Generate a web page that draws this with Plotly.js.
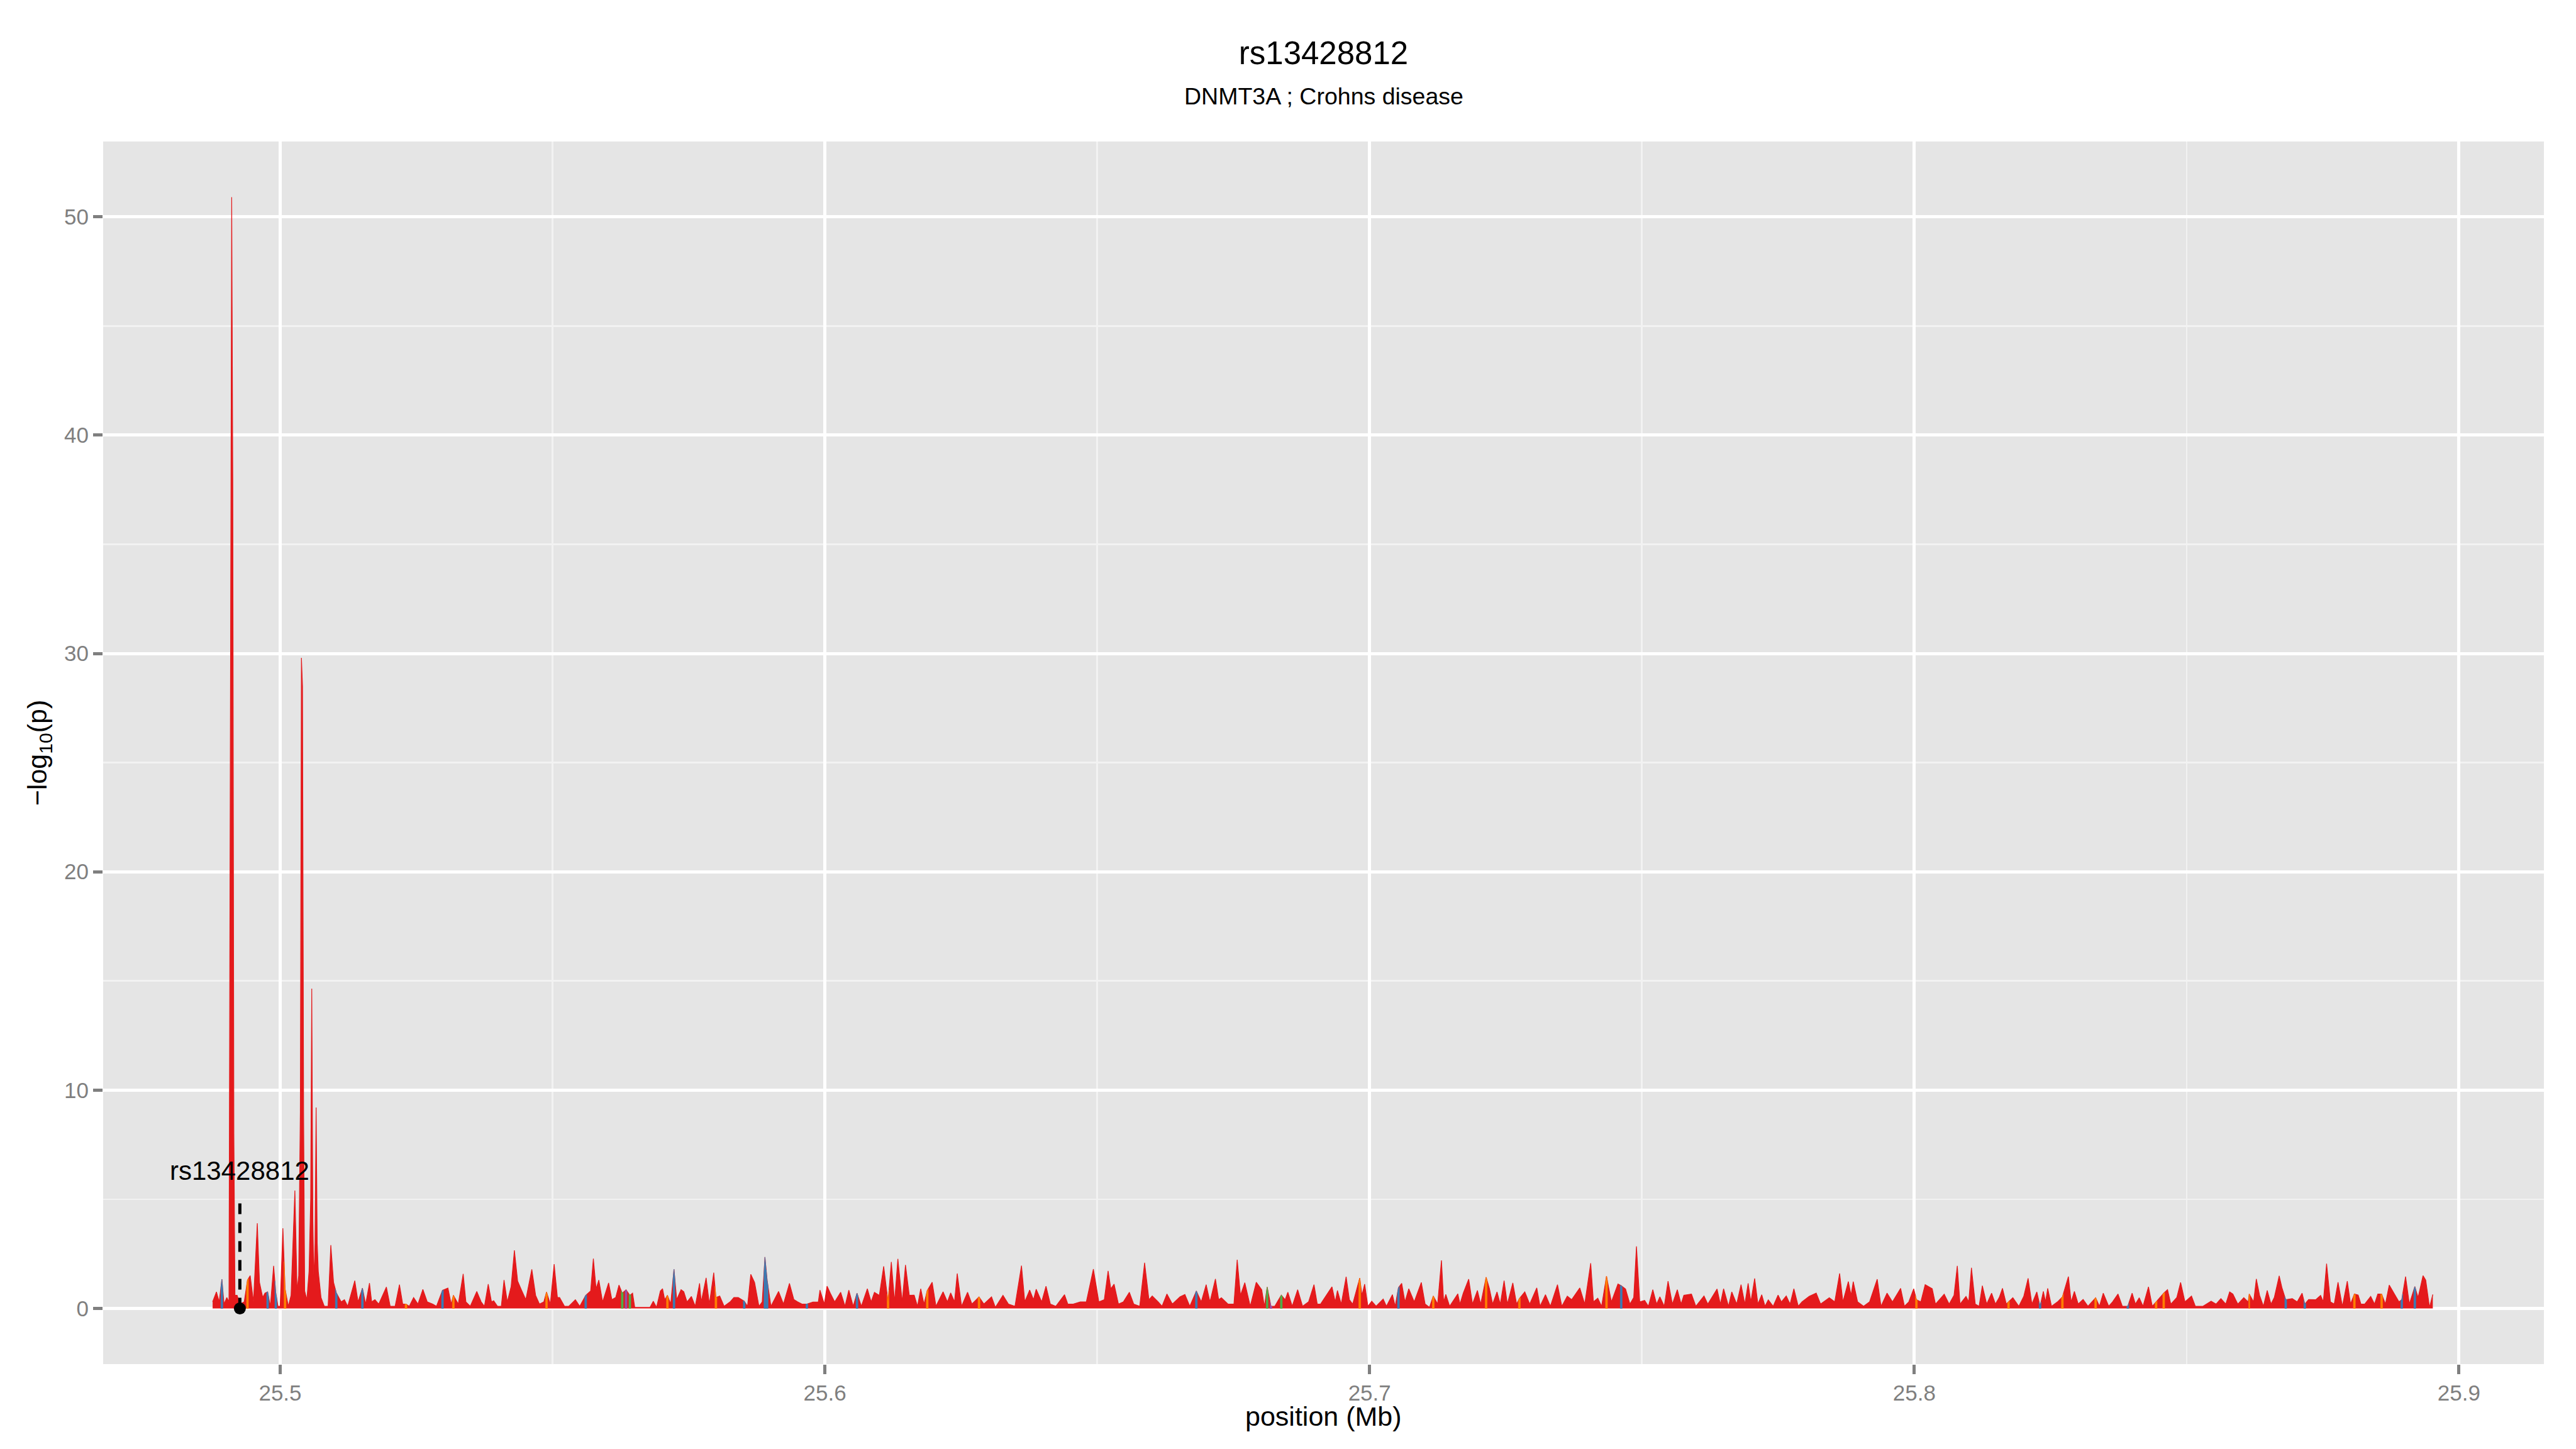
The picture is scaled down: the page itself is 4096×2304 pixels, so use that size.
<!DOCTYPE html>
<html>
<head>
<meta charset="utf-8">
<script src="https://cdn.plot.ly/plotly-3.0.1.min.js"></script>
<style>
html,body{margin:0;padding:0;background:#ffffff;}
#chart{width:4096px;height:2304px;}
</style>
</head>
<body>
<div id="chart"></div>
<script>
// ---------------- data ----------------
const chart_title = "rs13428812";
const chart_subtitle = "DNMT3A ; Crohns disease";
const x_axis_title = "position (Mb)";
const y_axis_title = "\u2212log<sub>10</sub>(p)";
const x_tick_values = [25.5, 25.6, 25.7, 25.8, 25.9];
const x_tick_labels = ["25.5", "25.6", "25.7", "25.8", "25.9"];
const y_tick_values = [0, 10, 20, 30, 40, 50];
const y_tick_labels = ["0", "10", "20", "30", "40", "50"];

const lead_snp_id = "rs13428812";
const lead_snp_pos = 25.4926;
const lead_snp_value = 0;
const lead_line_top = 5.05;
const lead_label_y = 6.3;

const pos_mb = [
25.4876,25.4883,25.4888,25.4893,25.4897,25.4902,25.4906,25.4909,25.4911,25.4913,
25.4915,25.4917,25.4921,25.4926,25.4934,25.4940,25.4945,25.4951,25.4958,25.4962,
25.4968,25.4972,25.4977,25.4982,25.4988,25.4992,25.4996,25.5000,25.5005,25.5009,
25.5015,25.5020,25.5027,25.5031,25.5034,25.5037,25.5039,25.5041,25.5043,25.5045,
25.5049,25.5053,25.5056,25.5058,25.5060,25.5062,25.5064,25.5066,25.5068,25.5070,
25.5075,25.5081,25.5088,25.5093,25.5098,25.5103,25.5112,25.5118,25.5124,25.5137,
25.5143,25.5151,25.5157,25.5164,25.5168,25.5174,25.5181,25.5195,25.5202,25.5211,
25.5219,25.5225,25.5231,25.5237,25.5245,25.5253,25.5262,25.5270,25.5280,25.5287,
25.5298,25.5308,25.5314,25.5318,25.5327,25.5336,25.5341,25.5349,25.5361,25.5369,
25.5375,25.5382,25.5388,25.5392,25.5399,25.5406,25.5411,25.5417,25.5424,25.5430,
25.5436,25.5442,25.5451,25.5462,25.5469,25.5476,25.5484,25.5489,25.5496,25.5503,
25.5509,25.5513,25.5522,25.5530,25.5542,25.5550,25.5561,25.5570,25.5575,25.5580,
25.5585,25.5592,25.5603,25.5609,25.5616,25.5622,25.5628,25.5635,25.5642,25.5647,
25.5651,25.5668,25.5679,25.5685,25.5691,25.5698,25.5702,25.5706,25.5711,25.5717,
25.5723,25.5728,25.5736,25.5741,25.5747,25.5755,25.5762,25.5770,25.5773,25.5782,
25.5788,25.5796,25.5800,25.5807,25.5815,25.5826,25.5833,25.5841,25.5852,25.5858,
25.5864,25.5871,25.5879,25.5885,25.5890,25.5894,25.5901,25.5915,25.5924,25.5935,
25.5943,25.5950,25.5958,25.5967,25.5978,25.5988,25.5991,25.5999,25.6004,25.6010,
25.6018,25.6029,25.6037,25.6044,25.6052,25.6059,25.6067,25.6078,25.6085,25.6091,
25.6100,25.6108,25.6116,25.6122,25.6128,25.6134,25.6142,25.6148,25.6155,25.6164,
25.6170,25.6176,25.6182,25.6188,25.6197,25.6204,25.6217,25.6225,25.6231,25.6238,
25.6243,25.6251,25.6262,25.6270,25.6283,25.6292,25.6306,25.6313,25.6327,25.6337,
25.6349,25.6361,25.6367,25.6376,25.6383,25.6388,25.6398,25.6406,25.6414,25.6424,
25.6440,25.6446,25.6456,25.6469,25.6480,25.6493,25.6503,25.6513,25.6520,25.6525,
25.6531,25.6539,25.6548,25.6559,25.6567,25.6578,25.6587,25.6595,25.6601,25.6612,
25.6619,25.6628,25.6638,25.6652,25.6661,25.6670,25.6682,25.6691,25.6700,25.6707,
25.6717,25.6723,25.6728,25.6740,25.6751,25.6757,25.6763,25.6771,25.6781,25.6792,
25.6802,25.6807,25.6812,25.6819,25.6826,25.6838,25.6845,25.6850,25.6858,25.6868,
25.6877,25.6888,25.6898,25.6904,25.6910,25.6918,25.6931,25.6937,25.6941,25.6948,
25.6957,25.6963,25.6969,25.6982,25.6986,25.6991,25.6997,25.7004,25.7012,25.7025,
25.7031,25.7042,25.7047,25.7053,25.7059,25.7065,25.7072,25.7082,25.7095,25.7102,
25.7110,25.7117,25.7125,25.7132,25.7136,25.7140,25.7147,25.7162,25.7166,25.7172,
25.7182,25.7189,25.7198,25.7204,25.7214,25.7220,25.7226,25.7234,25.7240,25.7247,
25.7253,25.7263,25.7270,25.7275,25.7285,25.7294,25.7307,25.7313,25.7323,25.7332,
25.7345,25.7353,25.7363,25.7371,25.7386,25.7395,25.7406,25.7411,25.7419,25.7426,
25.7435,25.7444,25.7456,25.7462,25.7470,25.7478,25.7485,25.7490,25.7496,25.7505,
25.7512,25.7520,25.7527,25.7533,25.7541,25.7548,25.7556,25.7565,25.7572,25.7577,
25.7591,25.7599,25.7614,25.7621,25.7638,25.7644,25.7650,25.7659,25.7665,25.7674,
25.7682,25.7689,25.7695,25.7700,25.7707,25.7713,25.7720,25.7726,25.7732,25.7741,
25.7750,25.7756,25.7765,25.7772,25.7779,25.7787,25.7794,25.7807,25.7820,25.7828,
25.7844,25.7854,25.7863,25.7869,25.7879,25.7884,25.7888,25.7896,25.7907,25.7918,
25.7932,25.7939,25.7950,25.7960,25.7975,25.7982,25.7990,25.7999,25.8004,25.8012,
25.8020,25.8033,25.8039,25.8055,25.8064,25.8073,25.8079,25.8084,25.8095,25.8100,
25.8105,25.8112,25.8119,25.8125,25.8133,25.8142,25.8149,25.8156,25.8162,25.8169,
25.8173,25.8181,25.8192,25.8201,25.8209,25.8216,25.8225,25.8231,25.8237,25.8241,
25.8245,25.8252,25.8263,25.8272,25.8283,25.8288,25.8294,25.8301,25.8310,25.8319,
25.8333,25.8340,25.8347,25.8357,25.8364,25.8374,25.8382,25.8392,25.8400,25.8406,
25.8413,25.8420,25.8430,25.8437,25.8444,25.8458,25.8465,25.8471,25.8482,25.8489,
25.8497,25.8509,25.8516,25.8530,25.8545,25.8554,25.8563,25.8572,25.8579,25.8585,
25.8594,25.8605,25.8613,25.8615,25.8623,25.8628,25.8634,25.8641,25.8648,25.8655,
25.8661,25.8670,25.8675,25.8682,25.8694,25.8703,25.8712,25.8717,25.8724,25.8737,
25.8746,25.8751,25.8757,25.8764,25.8771,25.8778,25.8786,25.8795,25.8801,25.8808,
25.8815,25.8820,25.8827,25.8838,25.8845,25.8851,25.8858,25.8865,25.8872,25.8879,
25.8890,25.8895,25.8902,25.8909,25.8919,25.8925,25.8934,25.8939,25.8946,25.8952
];

const neglog10p = [
0.30,0.76,0.30,1.34,0.20,0.50,0.30,34.0,50.9,38.0,
8.00,0.60,0.60,0.20,0.30,1.30,1.50,0.30,3.90,1.20,
0.50,0.70,0.76,0.10,1.95,0.70,0.10,0.10,3.67,0.90,
0.10,0.60,5.40,0.80,1.50,9.00,29.8,28.5,9.00,0.80,
0.40,1.70,5.00,14.65,4.00,1.20,3.00,9.20,3.00,1.70,
0.50,0.10,0.10,2.90,1.20,0.72,0.30,0.40,0.10,1.27,
0.30,0.93,0.20,1.16,0.30,0.40,0.20,0.98,0.10,0.10,
1.09,0.20,0.20,0.10,0.50,0.20,0.87,0.30,0.20,0.10,
0.83,0.93,0.20,0.60,0.20,1.58,0.30,0.10,0.78,0.30,
0.10,1.11,0.30,0.35,0.10,0.10,1.30,0.30,1.00,2.66,
1.25,0.90,0.40,1.79,0.60,0.20,0.30,0.75,0.20,2.03,
0.50,0.50,0.10,0.10,0.40,0.10,0.60,0.80,2.28,0.90,
1.30,0.30,1.17,0.40,0.50,1.07,0.70,0.85,0.60,0.70,
0.05,0.05,0.05,0.33,0.05,0.80,0.90,0.40,0.60,0.20,
1.80,0.40,0.86,0.77,0.30,0.55,0.10,1.15,0.30,1.40,
0.20,1.64,0.50,0.57,0.10,0.30,0.50,0.50,0.33,0.10,
1.56,1.19,0.10,0.30,2.35,1.30,0.10,0.78,0.20,1.15,
0.41,0.30,0.20,0.20,0.29,0.30,0.84,0.20,1.02,0.70,
0.30,0.74,0.10,0.84,0.10,0.70,0.10,0.90,0.30,0.74,
0.60,1.93,0.30,2.13,0.30,2.27,0.30,1.99,0.60,0.61,
0.10,0.90,0.20,0.82,1.20,0.10,0.76,0.30,0.71,0.30,
1.60,0.10,0.74,0.20,0.53,0.20,0.53,0.05,0.60,0.20,
0.10,1.96,0.30,0.84,0.40,0.88,0.30,1.02,0.20,0.10,
0.63,0.20,0.20,0.30,0.30,1.80,0.30,0.40,1.72,0.90,
1.11,0.20,0.30,0.74,0.20,0.10,2.09,0.40,0.57,0.30,
0.10,0.66,0.20,0.53,0.64,0.10,0.80,0.30,1.09,0.30,
1.35,0.40,0.49,0.20,0.20,2.23,0.60,1.18,0.10,1.20,
0.86,0.10,0.98,0.10,0.10,0.61,0.40,0.74,0.10,0.86,
0.10,0.30,1.09,0.20,0.20,0.50,0.99,0.30,0.82,0.20,
1.45,0.40,0.20,1.39,0.60,1.11,0.10,0.33,0.10,0.43,
0.10,0.63,0.10,0.95,1.15,0.30,0.90,0.30,1.19,0.20,
0.05,0.57,0.20,2.20,0.30,0.64,0.10,0.67,0.20,0.70,
1.34,0.20,0.82,0.20,1.43,0.92,0.20,0.76,0.20,1.27,
0.20,1.17,0.20,0.45,0.76,0.20,0.94,0.10,0.63,0.10,
1.09,0.10,0.56,0.40,0.94,0.20,2.07,0.30,0.47,0.10,
1.48,0.30,1.12,1.04,0.89,0.20,0.50,2.84,0.30,0.37,
0.10,0.86,0.20,0.53,0.10,1.25,0.20,0.86,0.20,0.60,
0.66,0.10,0.57,0.20,0.89,0.20,0.90,0.10,0.76,0.20,
1.09,0.20,1.15,0.30,1.37,0.20,0.63,0.10,0.39,0.10,
0.61,0.30,0.57,0.20,0.90,0.10,0.30,0.55,0.70,0.20,
0.49,0.30,1.60,0.30,1.23,0.60,1.23,0.30,0.10,0.30,
1.34,0.10,0.70,0.30,0.92,0.10,0.30,0.90,0.40,0.30,
1.09,0.90,0.20,0.65,0.20,0.60,1.95,0.20,0.55,0.30,
1.86,0.20,0.10,1.04,0.20,0.70,0.20,0.50,0.92,0.20,
0.30,0.49,0.10,0.55,1.38,0.20,0.76,0.10,0.78,0.30,
0.92,0.10,0.30,0.53,1.46,0.30,0.78,0.20,0.41,0.10,
0.49,0.10,0.70,0.10,0.30,0.66,0.10,0.10,0.70,0.20,
0.49,0.10,0.99,0.10,0.30,0.70,0.86,0.20,0.50,1.19,
0.30,0.57,0.10,0.10,0.33,0.20,0.45,0.20,0.76,0.66,
0.20,0.49,0.30,0.66,0.30,1.35,0.60,0.10,0.82,0.20,
0.50,1.49,0.95,0.40,0.45,0.30,0.70,0.20,0.41,0.40,
0.60,0.30,2.05,0.30,0.20,1.20,0.10,1.25,0.20,0.66,
0.61,0.20,0.20,0.55,0.20,0.66,0.66,0.20,1.07,0.78,
0.30,0.40,1.46,0.20,1.00,0.50,1.50,1.30,0.05,0.64
];

// LD group of each SNP (r = red, b = blue, o = orange, g = green, p = purple), 10 per string
const ld_group = [
"rrrbrrrrrr","rrrrrorrrr","rrbrrbrrro","rrrrrrrrrr","rrrrrrrrrr",
"rrrrrbrrrr","rbrrrrrrrr","rrorrrrrrr","brrorrrrrr","rrrrrrrrrr",
"rrrrrrrorr","rrrrrrbrrr","rrrrrrgpgr","rrrrrrrror","brrrrrrrrr",
"rrorrrrrbr","rrrrbbrrrr","rrrbrrrrrr","rrrrrbrrrr","rrorrrrrrr",
"rrrorrrrrr","rrrrorrrrr","rrrrrrrrrr","rrrrrrrrrr","rrrrrrrrrr",
"rrrrrrbrrr","rrrrrrrrrr","rrgprgrrrr","rrrrrrrrrr","rrrorrrrrr",
"rrrbrrrrrr","rorrrrrrrr","rrrrorrrrr","rrrorrrrrr","rrrrrrrrrr",
"orrbrrrrrr","rrrrrrrrrr","rrrrrrrrrr","rrrrrrrrrr","rrrrrrrrrr",
"rrrrrrrrrr","rrrrrrrror","rrrrrrrrrr","rrrrrrrrrr","orrrrrrbrr",
"rrrorrrrrr","orrrrrrbrr","rrrroorrrr","rrrrrrrrrr","rrrorrrrrr",
"rrrbrrrbrr","rrrrrrrrro","rrrrrrorrr","rbrrbrrrrr"
].join("").split("");

const group_colors = {r: "#E41A1C", b: "#377EB8", o: "#FF7F00", g: "#4DAF4A", p: "#984EA3"};

// ---------------- drawing ----------------
const FONT = "Liberation Sans, Arial, Helvetica, sans-serif";
const sliver_half_width = 0.00018;

function lerpY(i0, i1, xq) {
  const x0 = pos_mb[i0], x1 = pos_mb[i1];
  if (x1 === x0) return neglog10p[i0];
  const t = (xq - x0) / (x1 - x0);
  return neglog10p[i0] + t * (neglog10p[i1] - neglog10p[i0]);
}

const traces = [];
traces.push({
  type: "scatter", mode: "lines",
  x: pos_mb, y: neglog10p,
  fill: "tozeroy", fillcolor: group_colors.r,
  line: {color: group_colors.r, width: 1.2},
  hoverinfo: "x+y", showlegend: false
});

["b", "o", "g", "p"].forEach(function (g) {
  const xs = [], ys = [];
  const n = pos_mb.length;
  ld_group.forEach(function (c, i) {
    if (c !== g) return;
    let w = sliver_half_width;
    if (i > 0) w = Math.min(w, 0.45 * (pos_mb[i] - pos_mb[i - 1]));
    if (i < n - 1) w = Math.min(w, 0.45 * (pos_mb[i + 1] - pos_mb[i]));
    const xa = pos_mb[i] - w, xb = pos_mb[i] + w;
    const ya = i > 0 ? lerpY(i - 1, i, xa) : neglog10p[i];
    const yb = i < n - 1 ? lerpY(i, i + 1, xb) : neglog10p[i];
    xs.push(xa, xa, pos_mb[i], xb, xb, xa, null);
    ys.push(0, ya, neglog10p[i], yb, 0, 0, null);
  });
  if (xs.length) {
    traces.push({
      type: "scatter", mode: "lines", x: xs, y: ys,
      fill: "toself", fillcolor: group_colors[g],
      line: {color: group_colors[g], width: 0.6},
      hoverinfo: "skip", showlegend: false
    });
  }
});

// lead SNP marker, dashed stem and label
traces.push({
  type: "scatter", mode: "lines",
  x: [lead_snp_pos, lead_snp_pos], y: [lead_snp_value, lead_line_top],
  line: {color: "#000000", width: 5, dash: "17px,13px"},
  hoverinfo: "skip", showlegend: false
});
traces.push({
  type: "scatter", mode: "markers",
  x: [lead_snp_pos], y: [lead_snp_value],
  marker: {color: "#000000", size: 19},
  hoverinfo: "skip", showlegend: false
});

const W = 4096, H = 2304;
const M = {l: 164, r: 51, t: 225, b: 135};

const layout = {
  width: W, height: H,
  margin: {l: M.l, r: M.r, t: M.t, b: M.b, pad: 0, autoexpand: false},
  paper_bgcolor: "#FFFFFF",
  plot_bgcolor: "#E5E5E5",
  font: {family: FONT, color: "#000000"},
  showlegend: false,
  title: {
    text: chart_title,
    font: {family: FONT, size: 51, color: "#000000"},
    x: 0.5, xref: "paper", xanchor: "center",
    y: 1 - 84 / H, yref: "container", yanchor: "middle"
  },
  xaxis: {
    range: [25.4675, 25.9156],
    tickmode: "array", tickvals: x_tick_values, ticktext: x_tick_labels,
    ticks: "outside", ticklen: 15, tickwidth: 5, tickcolor: "#7F7F7F",
    tickfont: {family: FONT, size: 35, color: "#7F7F7F"},
    showgrid: true, gridcolor: "#FFFFFF", gridwidth: 5,
    minor: {tickmode: "linear", tick0: 25.45, dtick: 0.05, showgrid: true, gridcolor: "#F2F2F2", gridwidth: 2.6, ticks: ""},
    zeroline: false, showline: false,
    automargin: false, fixedrange: true
  },
  yaxis: {
    range: [-2.55, 53.45],
    tickmode: "array", tickvals: y_tick_values, ticktext: y_tick_labels,
    ticks: "outside", ticklen: 15, tickwidth: 5, tickcolor: "#7F7F7F",
    tickfont: {family: FONT, size: 35, color: "#7F7F7F"},
    showgrid: true, gridcolor: "#FFFFFF", gridwidth: 5,
    minor: {tickmode: "linear", tick0: 5, dtick: 10, showgrid: true, gridcolor: "#F2F2F2", gridwidth: 2.6, ticks: ""},
    zeroline: false, showline: false,
    title: {text: y_axis_title, font: {family: FONT, size: 43, color: "#000000"}, standoff: 14},
    automargin: true, fixedrange: true
  },
  annotations: [
    {
      text: chart_subtitle, xref: "paper", yref: "paper", x: 0.5, y: 1,
      xanchor: "center", yanchor: "middle", yshift: M.t - 153,
      showarrow: false, font: {family: FONT, size: 37.5, color: "#000000"}
    },
    {
      text: x_axis_title, xref: "paper", yref: "paper", x: 0.5, y: 0,
      xanchor: "center", yanchor: "middle", yshift: -83,
      showarrow: false, font: {family: FONT, size: 43, color: "#000000"}
    },
    {
      text: lead_snp_id, xref: "x", yref: "y", x: lead_snp_pos, y: lead_label_y,
      xanchor: "center", yanchor: "middle", showarrow: false,
      font: {family: FONT, size: 42, color: "#000000"}
    }
  ]
};

Plotly.newPlot("chart", traces, layout, {staticPlot: true, displayModeBar: false});
</script>
</body>
</html>
